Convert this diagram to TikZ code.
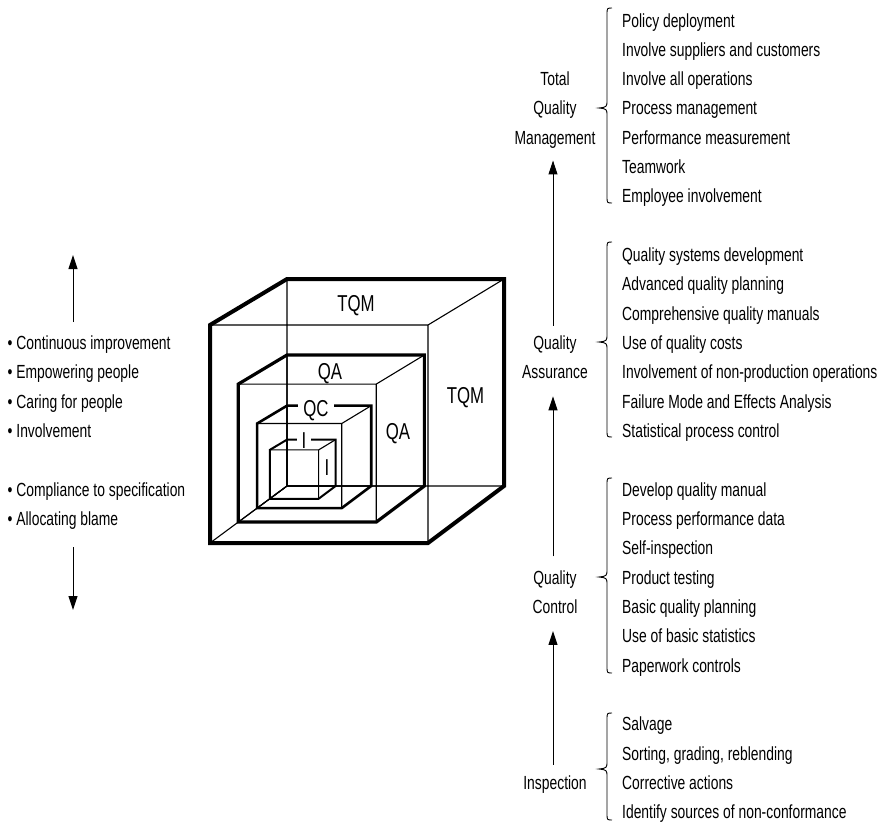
\documentclass[tikz,border=0pt]{standalone}
\usepackage{fontspec}
\setmainfont{Liberation Sans}[FakeStretch=0.73]
\usetikzlibrary{arrows.meta}
\begin{document}
\begin{tikzpicture}[x=1pt,y=-1pt,
  item/.style={anchor=base west, inner sep=0pt, font=\fontsize{19}{21}\selectfont},
  stage/.style={anchor=base, inner sep=0pt, font=\fontsize{19}{21}\selectfont},
  cubelabel/.style={anchor=base, inner sep=0pt, font=\fontsize{23}{25}\selectfont},
  gaplabel/.style={cubelabel, fill=white, inner xsep=5pt, inner ysep=0pt},
  thin edge/.style={line width=1.1pt},
  progress/.style={line width=1pt, -{Triangle[length=14pt,width=9pt]}},
  bracket/.style={line width=0.9pt},
  pics/leftbrace/.style n args={3}{code={
    \draw[bracket] (5,#1) .. controls (0,#1) .. (0,#1+7)
      -- (0,#2-8) .. controls (0,#2-1) .. (-8,#2)
      .. controls (0,#2+1) .. (0,#2+8)
      -- (0,#3-7) .. controls (0,#3) .. (5,#3);
  }},
]
\path[use as bounding box] (0,0) rectangle (886,822);

% ---------- nested cubes, all sharing the rear bottom-left corner ----------
\foreach \s/\w/\n in {1/4/tqm, 0.633/3.2/qa, 0.388/2.6/qc, 0.224/2/ins} {
  \begin{scope}[shift={(287,486)}]
    \coordinate (c\n-ftl) at (-77*\s,-161*\s);
    \coordinate (c\n-ftr) at (141*\s,-161*\s);
    \coordinate (c\n-fbr) at (141*\s,57*\s);
    \coordinate (c\n-fbl) at (-77*\s,57*\s);
    \coordinate (c\n-btl) at (0,-207*\s);
    \coordinate (c\n-btr) at (217*\s,-207*\s);
    \coordinate (c\n-bbr) at (217*\s,0);
    \coordinate (c\n-bbl) at (0,0);
  \end{scope}
  \draw[thin edge] (c\n-ftl) -- (c\n-ftr) -- (c\n-fbr) (c\n-ftr) -- (c\n-btr)
                   (c\n-btl) -- (c\n-bbl) -- (c\n-bbr) (c\n-bbl) -- (c\n-fbl);
  \draw[line width=\w pt] (c\n-ftl) -- (c\n-btl) -- (c\n-btr) -- (c\n-bbr)
                          -- (c\n-fbr) -- (c\n-fbl) -- cycle;
}

% cube labels
\node[cubelabel] (lab-tqm-top)  at (356,311)   {TQM};
\node[cubelabel] (lab-tqm-side) at (465.5,403) {TQM};
\node[cubelabel] (lab-qa-top)   at (330,379)   {QA};
\node[cubelabel] (lab-qa-side)  at (398,439)   {QA};
\node[gaplabel]  (lab-qc-top)   at (316,416)   {QC};
\node[gaplabel]  (lab-i-top)    at (304,448)   {I};
\node[cubelabel] (lab-i-side)   at (327,475)   {I};

% ---------- left column ----------
\foreach \t [count=\k from 0] in {Continuous improvement, Empowering people,
    Caring for people, Involvement}
  \node[item] (soft-\k) at (7.5, 349.6+29.33*\k) {•\ \t};
\foreach \t [count=\k from 0] in {Compliance to specification, Allocating blame}
  \node[item] (hard-\k) at (7.5, 496.3+29.33*\k) {•\ \t};
\coordinate (up-tail) at (73,322);
\coordinate (up-head) at (73,255);
\coordinate (down-tail) at (73,547);
\coordinate (down-head) at (73,610);
\draw[progress] (up-tail) -- (up-head);
\draw[progress] (down-tail) -- (down-head);

% ---------- right column: stages and their practices ----------
\foreach \t [count=\k from 0] in {Policy deployment, Involve suppliers and customers,
    Involve all operations, Process management, Performance measurement,
    Teamwork, Employee involvement}
  \node[item] (tqm-\k) at (622, 27+29.33*\k) {\t};
\foreach \t [count=\k from 8] in {Quality systems development, Advanced quality planning,
    Comprehensive quality manuals, Use of quality costs,
    Involvement of non-production operations, Failure Mode and Effects Analysis,
    Statistical process control}
  \node[item] (qa-\k) at (622, 27+29.33*\k) {\t};
\foreach \t [count=\k from 16] in {Develop quality manual, Process performance data,
    Self-inspection, Product testing, Basic quality planning,
    Use of basic statistics, Paperwork controls}
  \node[item] (qc-\k) at (622, 27+29.33*\k) {\t};
\foreach \t [count=\k from 24] in {Salvage, {Sorting, grading, reblending},
    Corrective actions, Identify sources of non-conformance}
  \node[item] (in-\k) at (622, 27+29.33*\k) {\t};

\node[stage] (tqm-a) at (555, 27+29.33*2)  {Total};
\node[stage] (tqm-b) at (555, 27+29.33*3)  {Quality};
\node[stage] (tqm-c) at (555, 27+29.33*4)  {Management};
\node[stage] (qa-a)  at (555, 27+29.33*11) {Quality};
\node[stage] (qa-b)  at (555, 27+29.33*12) {Assurance};
\node[stage] (qc-a)  at (555, 27+29.33*19) {Quality};
\node[stage] (qc-b)  at (555, 27+29.33*20) {Control};
\node[stage] (in-a)  at (555, 27+29.33*26) {Inspection};

\draw[progress, shorten <=11pt, shorten >=17pt]
  ([xshift=-2pt]in-a.north) -- ([xshift=-2pt]qc-b.south);
\draw[progress, shorten <=14pt, shorten >=17pt]
  ([xshift=-2pt]qc-a.north) -- ([xshift=-2pt]qa-b.south);
\draw[progress, shorten <=10pt, shorten >=12pt]
  ([xshift=-2pt]qa-a.north) -- ([xshift=-2pt]tqm-c.south);

% braces
\pic at (607,0) {leftbrace={8}{108}{203}};
\pic at (607,0) {leftbrace={242}{342}{437}};
\pic at (607,0) {leftbrace={478}{577}{673}};
\pic at (607,0) {leftbrace={713}{769}{820}};
\end{tikzpicture}
\end{document}
